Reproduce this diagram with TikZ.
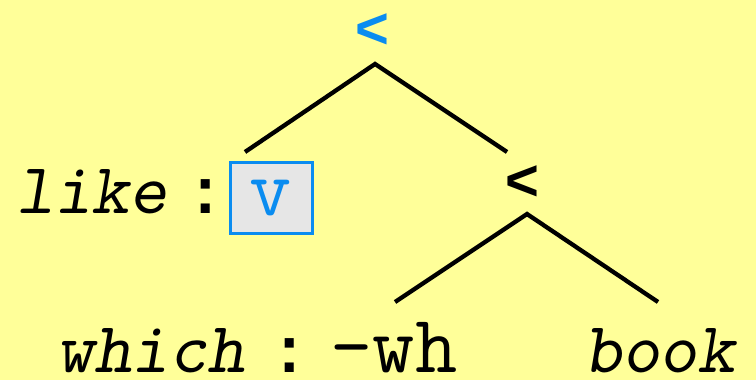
\documentclass[tikz,border=0pt]{standalone}
\usepackage{fontspec}
\newfontfamily\monofam{Liberation Mono}
\newfontfamily\sansfam{Liberation Sans}
\definecolor{bgyellow}{HTML}{FFFF99}
\definecolor{treeblue}{HTML}{0A8CF0}
\definecolor{boxgray}{HTML}{E6E6E6}
\begin{document}
\begin{tikzpicture}[x=1pt,y=-1pt,
  edge/.style={line width=4.3pt, line cap=butt},
  lt/.style={font=\sansfam\bfseries\fontsize{58}{58}\selectfont, inner sep=0pt, anchor=base},
  word/.style={font=\ttfamily\slshape\fontsize{72}{72}\selectfont\addfontfeatures{LetterSpace=3}, inner sep=0pt, anchor=base west, text depth=0pt},
  colonmark/.style={font=\monofam\bfseries\fontsize{64}{64}\selectfont, inner sep=0pt, anchor=base, text depth=0pt},
  feat/.style={font=\ttfamily\fontsize{82}{82}\selectfont, inner sep=0pt, anchor=base, text depth=0pt},
  featbox/.style={draw=treeblue, line width=3pt, fill=boxgray}]
\fill[bgyellow] (0,0) rectangle (756,380);
\useasboundingbox (0,0) rectangle (756,380);
% root
\node[lt, text=treeblue] (root) at (372,48) {<};
\coordinate (ra) at (375,64);
\coordinate (rl) at (245,152);
\coordinate (rr) at (507,152);
\draw[edge] (rl) -- (ra) -- (rr);
% like : v
\node[word] (like) at (16,213) {like};
\node[colonmark] (c1) at (206,213) {:};
\draw[featbox] (230,162) rectangle (312,233);
\node[feat, text=treeblue] (v) at (271,215) {v};
% inner node
\node[lt] (inner) at (522,200) {<};
\coordinate (ia) at (527,214);
\coordinate (il) at (395,302);
\coordinate (ir) at (658,302);
\draw[edge] (il) -- (ia) -- (ir);
% which : -wh
\node[word] (which) at (56,372) {which};
\node[colonmark] (c2) at (290,372) {:};
\node[feat, font=\ttfamily\fontsize{82}{82}\selectfont\addfontfeatures{LetterSpace=5}] (wh) at (394,372) {-wh};
% book
\node[word] (book) at (584,372) {book};
\end{tikzpicture}
\end{document}
